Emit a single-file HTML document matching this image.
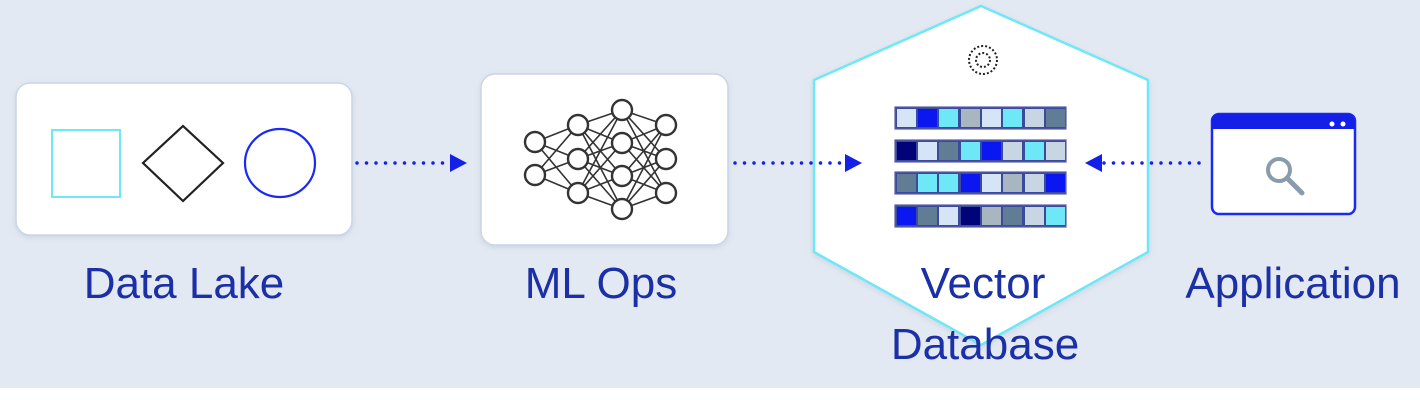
<!DOCTYPE html>
<html><head><meta charset="utf-8"><style>
html,body{margin:0;padding:0;background:#fff}
svg{display:block}
text{font-family:"Liberation Sans",Arial,sans-serif;fill:#1b2fa6;font-size:44px;text-anchor:middle}
</style></head><body>
<svg width="1420" height="400" viewBox="0 0 1420 400" xmlns="http://www.w3.org/2000/svg">
<defs>
<filter id="sh" x="-10%" y="-10%" width="120%" height="130%"><feDropShadow dx="0" dy="2" stdDeviation="3" flood-color="#9fb0c8" flood-opacity="0.35"/></filter>
</defs>
<rect width="1420" height="388" fill="#e3e9f2"/>
<!-- Data Lake -->
<rect x="16" y="83" width="336" height="152" rx="14" fill="#fff" stroke="#c9d6e6" stroke-width="1.5" filter="url(#sh)"/>
<rect x="52" y="130" width="68" height="67" fill="none" stroke="#6ee8f6" stroke-width="2"/>
<polygon points="183,126 223,163 183,201 143,163" fill="none" stroke="#222" stroke-width="2.2"/>
<ellipse cx="280" cy="163" rx="35" ry="34" fill="none" stroke="#1a2af0" stroke-width="2.2"/>
<text x="184" y="298">Data Lake</text>
<!-- ML Ops -->
<rect x="481" y="74" width="247" height="171" rx="14" fill="#fff" stroke="#c9d6e6" stroke-width="1.5" filter="url(#sh)"/>
<g stroke="#333" stroke-width="1.6" fill="none">
<path d="M535,142L578,125M535,142L578,159M535,142L578,193M535,175L578,125M535,175L578,159M535,175L578,193
M578,125L622,110M578,125L622,143M578,125L622,176M578,125L622,209M578,159L622,110M578,159L622,143M578,159L622,176M578,159L622,209M578,193L622,110M578,193L622,143M578,193L622,176M578,193L622,209
M622,110L666,125M622,110L666,159M622,110L666,193M622,143L666,125M622,143L666,159M622,143L666,193M622,176L666,125M622,176L666,159M622,176L666,193M622,209L666,125M622,209L666,159M622,209L666,193"/>
</g>
<g stroke="#333" stroke-width="2.4" fill="#fff">
<circle cx="535" cy="142" r="10"/><circle cx="535" cy="175" r="10"/>
<circle cx="578" cy="125" r="10"/><circle cx="578" cy="159" r="10"/><circle cx="578" cy="193" r="10"/>
<circle cx="622" cy="110" r="10"/><circle cx="622" cy="143" r="10"/><circle cx="622" cy="176" r="10"/><circle cx="622" cy="209" r="10"/>
<circle cx="666" cy="125" r="10"/><circle cx="666" cy="159" r="10"/><circle cx="666" cy="193" r="10"/>
</g>
<text x="601" y="298">ML Ops</text>
<!-- Vector DB hexagon -->
<polygon points="981,6 1148,80 1148,252 981,345 814,252 814,80" fill="#fff" stroke="#6ee8f6" stroke-width="2.5" stroke-linejoin="round" filter="url(#sh)"/>
<g fill="none" stroke="#222" stroke-width="2" stroke-dasharray="2 2">
<circle cx="983" cy="60" r="14"/><circle cx="983" cy="60" r="7"/>
</g>
<g stroke="#5a5fa8" stroke-width="1.2">
<rect x="895" y="107" width="171" height="22" fill="#3b4a9a"/>
<rect x="895" y="140" width="171" height="22" fill="#3b4a9a"/>
<rect x="895" y="172" width="171" height="22" fill="#3b4a9a"/>
<rect x="895" y="205" width="171" height="22" fill="#3b4a9a"/>
</g>
<g stroke="none">
<rect x="897" y="109" width="19" height="18" fill="#d6e4f7"/><rect x="918" y="109" width="19" height="18" fill="#0a17f0"/><rect x="939" y="109" width="19" height="18" fill="#6ee8f6"/><rect x="961" y="109" width="19" height="18" fill="#a8b6c2"/><rect x="982" y="109" width="19" height="18" fill="#d6e4f7"/><rect x="1003" y="109" width="19" height="18" fill="#6ee8f6"/><rect x="1025" y="109" width="19" height="18" fill="#c8d6e4"/><rect x="1046" y="109" width="19" height="18" fill="#617d96"/>
<rect x="897" y="142" width="19" height="18" fill="#000478"/><rect x="918" y="142" width="19" height="18" fill="#d6e4f7"/><rect x="939" y="142" width="19" height="18" fill="#617d96"/><rect x="961" y="142" width="19" height="18" fill="#6ee8f6"/><rect x="982" y="142" width="19" height="18" fill="#0a17f0"/><rect x="1003" y="142" width="19" height="18" fill="#c8d6e4"/><rect x="1025" y="142" width="19" height="18" fill="#6ee8f6"/><rect x="1046" y="142" width="19" height="18" fill="#c8d6e4"/>
<rect x="897" y="174" width="19" height="18" fill="#617d96"/><rect x="918" y="174" width="19" height="18" fill="#6ee8f6"/><rect x="939" y="174" width="19" height="18" fill="#6ee8f6"/><rect x="961" y="174" width="19" height="18" fill="#0a17f0"/><rect x="982" y="174" width="19" height="18" fill="#d6e4f7"/><rect x="1003" y="174" width="19" height="18" fill="#a8b6c2"/><rect x="1025" y="174" width="19" height="18" fill="#c8d6e4"/><rect x="1046" y="174" width="19" height="18" fill="#0a17f0"/>
<rect x="897" y="207" width="19" height="18" fill="#0a17f0"/><rect x="918" y="207" width="19" height="18" fill="#617d96"/><rect x="939" y="207" width="19" height="18" fill="#d6e4f7"/><rect x="961" y="207" width="19" height="18" fill="#000478"/><rect x="982" y="207" width="19" height="18" fill="#a8b6c2"/><rect x="1003" y="207" width="19" height="18" fill="#617d96"/><rect x="1025" y="207" width="19" height="18" fill="#c8d6e4"/><rect x="1046" y="207" width="19" height="18" fill="#6ee8f6"/>
</g>
<text x="983" y="298">Vector</text>
<text x="985" y="359">Database</text>
<!-- Application -->
<rect x="1212" y="114" width="143" height="100" rx="7" fill="#fff" stroke="#1a2af0" stroke-width="2.5"/>
<path d="M1212,129 L1212,121 Q1212,114 1219,114 L1348,114 Q1355,114 1355,121 L1355,129 Z" fill="#1420e8"/>
<circle cx="1332" cy="124" r="2.5" fill="#fff"/><circle cx="1343" cy="124" r="2.5" fill="#fff"/>
<circle cx="1279" cy="170" r="11" fill="none" stroke="#8a9cac" stroke-width="4"/>
<line x1="1287" y1="178" x2="1302" y2="193" stroke="#8a9cac" stroke-width="5" stroke-linecap="round"/>
<text x="1293" y="298">Application</text>
<!-- arrows -->
<line x1="357" y1="163" x2="448" y2="163" stroke="#1420e8" stroke-width="3.5" stroke-linecap="round" stroke-dasharray="0 9.5"/>
<polygon points="450,154 467,163 450,172" fill="#1420e8"/>
<line x1="735" y1="163" x2="843" y2="163" stroke="#1420e8" stroke-width="3.5" stroke-linecap="round" stroke-dasharray="0 9.5"/>
<polygon points="845,154 862,163 845,172" fill="#1420e8"/>
<line x1="1104" y1="163" x2="1208" y2="163" stroke="#1420e8" stroke-width="3.5" stroke-linecap="round" stroke-dasharray="0 9.5"/>
<polygon points="1102,154 1085,163 1102,172" fill="#1420e8"/>
</svg>
</body></html>
